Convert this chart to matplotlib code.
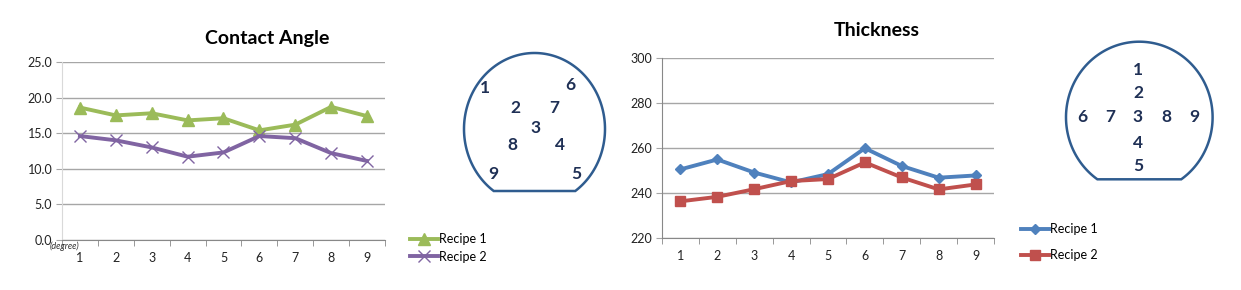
import numpy as np
import matplotlib
matplotlib.use("Agg")
import matplotlib.pyplot as plt
from matplotlib.patches import Polygon

plt.rcParams['font.family'] = ['Lato', 'DejaVu Sans']

# data
points = [1, 2, 3, 4, 5, 6, 7, 8, 9]
angle_r1 = [18.6, 17.5, 17.8, 16.8, 17.1, 15.4, 16.2, 18.7, 17.4]
angle_r2 = [14.6, 14.0, 13.0, 11.7, 12.3, 14.6, 14.3, 12.2, 11.1]
thick_r1 = [250.5, 254.9, 249.1, 244.7, 248.4, 259.9, 252.0, 246.8, 247.8]
thick_r2 = [236.3, 238.3, 241.7, 245.3, 246.2, 253.6, 246.9, 241.6, 243.8]
angle_ticks = [0, 5, 10, 15, 20, 25]
thick_ticks = [220, 240, 260, 280, 300]
series_names = ['Recipe 1', 'Recipe 2']

W, H = 1241, 290
GRID = '#a6a6a6'
WAFER = '#2f5c8f'
LABEL = '#1f3055'

fig = plt.figure(figsize=(W / 100, H / 100), dpi=100)

def px_axes(x0, y0, x1, y1):
    # pixel box (y down) -> figure fraction
    return fig.add_axes([x0 / W, 1 - y1 / H, (x1 - x0) / W, (y1 - y0) / H])

def style(ax, ticks, fmt, left_spine_color):
    ax.set_xlim(0.5, 9.5)
    ax.set_ylim(ticks[0], ticks[-1])
    ax.set_yticks(ticks)
    ax.set_yticklabels([fmt.format(t) for t in ticks])
    ax.set_xticks(points)
    ax.set_xticks(np.arange(0.5, 10, 1), minor=True)
    ax.tick_params(axis='x', which='major', length=0, pad=9, labelsize=9, colors='#222222')
    ax.tick_params(axis='x', which='minor', length=4, color='#888888', direction='out')
    ax.tick_params(axis='y', length=4, color=GRID, pad=3, labelsize=9, colors='#222222')
    ax.grid(axis='y', color=GRID, lw=1)
    ax.set_axisbelow(True)
    for s in ['top', 'right']:
        ax.spines[s].set_visible(False)
    ax.spines['bottom'].set_color('#888888')
    ax.spines['left'].set_color(left_spine_color)

def wafer(ax, cx, cy, rx, ry, flat_y):
    d = (flat_y - cy) / ry
    t = np.linspace(-np.arcsin(d), np.pi + np.arcsin(d), 200)
    pts = np.column_stack([cx + rx * np.cos(t), cy - ry * np.sin(t)])
    ax.add_patch(Polygon(pts, closed=True, fill=False, ec=WAFER, lw=1.8))

# ---- Contact angle ----
ax1 = px_axes(62, 62, 385, 240)
ax1.plot(points, angle_r1, color='#9bbb59', lw=2.8, marker='^', ms=8, label=series_names[0])
ax1.plot(points, angle_r2, color='#8064a2', lw=2.8, marker='x', ms=8, mew=1, label=series_names[1])
style(ax1, angle_ticks, '{:.1f}', '#d9d9d9')
fig.text(267 / W, 1 - 39 / H, 'Contact Angle', ha='center', va='center', fontsize=14, fontweight='bold')
fig.text(50 / W, 1 - 246 / H, '(degree)', ha='left', va='center', fontsize=6.5, style='italic', color='#333333')
ax1.legend(loc='center left', bbox_to_anchor=(410 / W, 1 - 248 / H), bbox_transform=fig.transFigure,
           frameon=False, fontsize=9, handlelength=2.2, handletextpad=0.1, labelspacing=0.45,
           borderpad=0, borderaxespad=0)

# ---- Thickness ----
ax2 = px_axes(662, 58, 994, 238)
ax2.plot(points, thick_r1, color='#4f81bd', lw=2.8, marker='D', ms=5.5, label=series_names[0])
ax2.plot(points, thick_r2, color='#c0504d', lw=2.8, marker='s', ms=7, label=series_names[1])
style(ax2, thick_ticks, '{:d}', '#888888')
fig.text(877 / W, 1 - 31 / H, 'Thickness', ha='center', va='center', fontsize=14, fontweight='bold')
ax2.legend(loc='center left', bbox_to_anchor=(1021 / W, 1 - 242 / H), bbox_transform=fig.transFigure,
           frameon=False, fontsize=9, handlelength=2.2, handletextpad=0.1, labelspacing=1.1,
           borderpad=0, borderaxespad=0)

# ---- wafer maps ----
ov = fig.add_axes([0, 0, 1, 1])
ov.set_xlim(0, W)
ov.set_ylim(H, 0)
ov.axis('off')
ov.patch.set_alpha(0)

wafer(ov, 534.5, 129, 70.5, 76, 191)
wafer(ov, 1139.3, 117.3, 73.3, 75.6, 179.3)

site_labels = ['1', '2', '3', '4', '5', '6', '7', '8', '9']
left_sites = [(485, 88), (515, 108), (536, 128), (560, 145), (576, 174),
              (570, 85), (554, 108), (512, 145), (493, 174)]
right_sites = [(1138, 70), (1138, 93), (1138, 117), (1138, 143), (1138, 166),
               (1082, 117), (1110, 117), (1166, 117), (1194, 117)]
for lab, (x, y) in zip(site_labels, left_sites):
    ov.text(x, y, lab, ha='center', va='center', fontsize=12.5, fontweight='bold', color=LABEL)
for lab, (x, y) in zip(site_labels, right_sites):
    ov.text(x, y, lab, ha='center', va='center', fontsize=12.5, fontweight='bold', color=LABEL)

fig.savefig('out.png', dpi=100)
